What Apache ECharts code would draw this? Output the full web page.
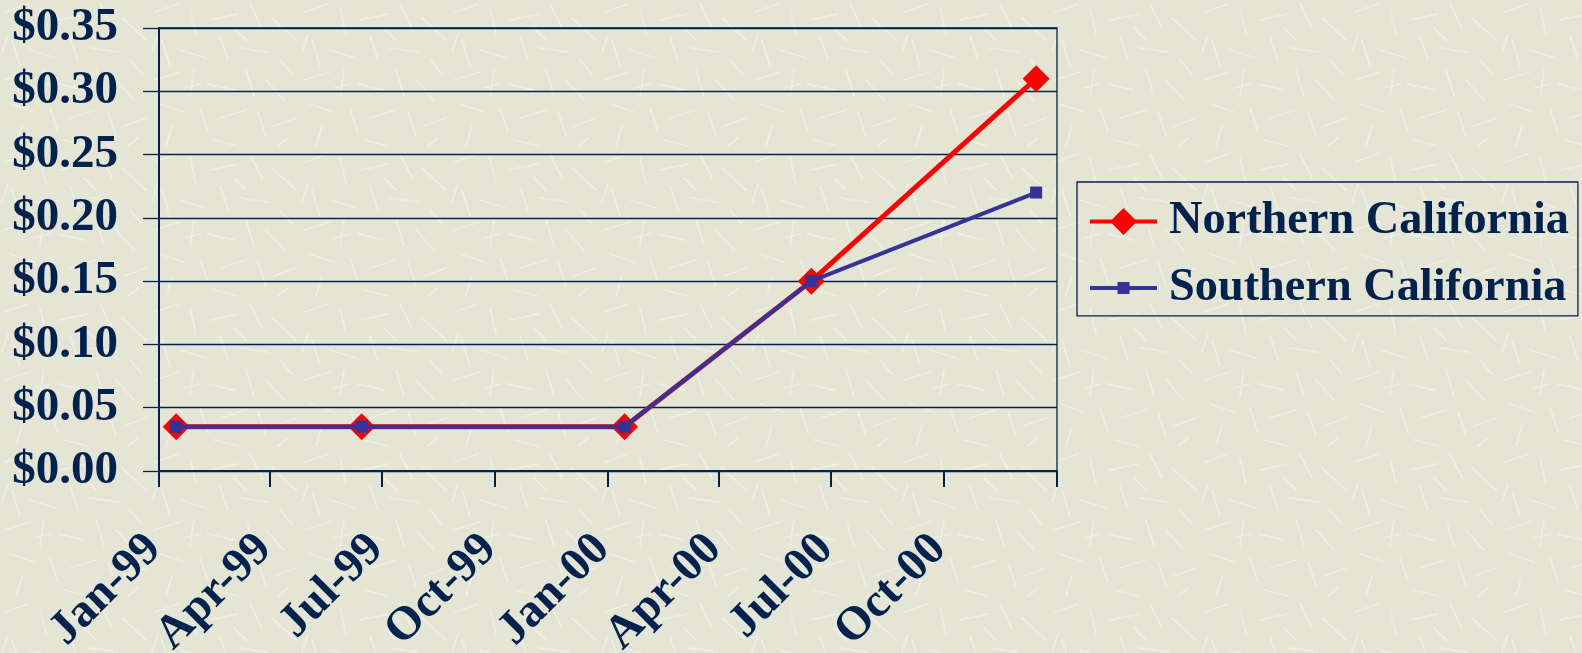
<!DOCTYPE html>
<html>
<head>
<meta charset="utf-8">
<script src="https://cdn.jsdelivr.net/npm/echarts@6/dist/echarts.min.js"></script>
<style>
  html, body { margin: 0; padding: 0; }
  body {
    background-color: #E5E5D6;
    /* paper-like scratch texture */
    background-image: url("data:image/svg+xml;utf8,<svg xmlns='http://www.w3.org/2000/svg' width='150' height='150'><g stroke='%23F2F2E7' stroke-width='1.8' stroke-linecap='round' opacity='0.7'><path d='M5 12 L28 4'/><path d='M40 8 L46 34'/><path d='M60 20 L88 14'/><path d='M100 4 L112 28'/><path d='M122 18 L146 40'/><path d='M12 40 L20 66'/><path d='M30 50 L56 58'/><path d='M70 36 L78 60'/><path d='M90 48 L118 52'/><path d='M4 80 L30 72'/><path d='M44 70 L40 96'/><path d='M58 84 L84 90'/><path d='M96 70 L104 96'/><path d='M116 80 L134 100'/><path d='M10 104 L34 112'/><path d='M50 108 L58 132'/><path d='M70 118 L96 110'/><path d='M108 112 L116 136'/><path d='M124 126 L146 118'/><path d='M22 126 L16 146'/><path d='M84 28 L96 40'/><path d='M34 88 L50 84'/><path d='M130 60 L142 74'/><path d='M64 140 L88 146'/><path d='M2 52 L8 34'/><path d='M138 138 L128 146'/></g></svg>");
  }
  #chart { width: 1582px; height: 653px; }
</style>
</head>
<body>
<div id="chart"></div>
<script>
// Observation dates (mid-month) and prices in $ per kWh
const obsDates = ['1999-01-15', '1999-06-15', '2000-01-15', '2000-06-15', '2000-12-15'];
const northern = [0.035, 0.035, 0.035, 0.15, 0.31];
const southern = [0.035, 0.035, 0.035, 0.15, 0.22];

// Quarterly ticks on the date axis
const tickDates = ['1999-01-01', '1999-04-01', '1999-07-01', '1999-10-01', '2000-01-01',
                   '2000-04-01', '2000-07-01', '2000-10-01', '2001-01-01'];
const tickLabels = ['Jan-99', 'Apr-99', 'Jul-99', 'Oct-99', 'Jan-00',
                    'Apr-00', 'Jul-00', 'Oct-00'];

const yTicks = { min: 0, max: 0.35, step: 0.05 };

// Day number counted from the first tick date (UTC, so no DST drift)
const DAY = 86400000;
function toDay(s) {
  const p = s.split('-').map(Number);
  return Date.UTC(p[0], p[1] - 1, p[2]) / DAY;
}
const origin = toDay(tickDates[0]);
const tickDays = tickDates.map(d => toDay(d) - origin);
const labelDays = tickDays.slice(0, tickLabels.length);

const NAVY = '#00224F';
const RED = '#FF0000';
const BLUE = '#333399';
const FONT = '"Liberation Serif", "Times New Roman", serif';
const FS = 47;

// Legend keys: a thick line with the series marker in the middle (67 x 27 box)
const ICON_NORTH = 'path://M0,11.5H22L33.5,0L45,11.5H67V15.5H45L33.5,27L22,15.5H0Z';
const ICON_SOUTH = 'path://M0,11.5H27.5V7.5H39.5V11.5H67V15.5H39.5V19.5H27.5V15.5H0Z';

const chart = echarts.init(document.getElementById('chart'), null, { renderer: 'canvas' });

chart.setOption({
  backgroundColor: 'transparent',
  animation: false,
  grid: {
    left: 159, right: 525, top: 28, bottom: 182,
    outerBoundsMode: 'none',
    containLabel: false,
    show: true, borderColor: NAVY, borderWidth: 1.3, backgroundColor: 'transparent'
  },
  legend: {
    left: 1077, top: 182,
    orient: 'vertical',
    padding: [15.5, 9, 4, 13],
    itemGap: 18.4,
    itemWidth: 67, itemHeight: 27,
    symbolKeepAspect: true,
    borderColor: NAVY, borderWidth: 1.3,
    itemStyle: { borderWidth: 0 },
    textStyle: { color: NAVY, fontFamily: FONT, fontWeight: 'bold', fontSize: 46.3, lineHeight: 48, padding: [0, 0, 0, 7] },
    data: [
      { name: 'Northern California', icon: ICON_NORTH },
      { name: 'Southern California', icon: ICON_SOUTH }
    ]
  },
  xAxis: {
    type: 'value',
    min: tickDays[0],
    max: tickDays[tickDays.length - 1],
    axisLine: { show: true, onZero: false, lineStyle: { color: NAVY, width: 2 } },
    axisTick: { show: true, length: 16, customValues: tickDays, lineStyle: { color: NAVY, width: 2 } },
    splitLine: { show: false },
    axisLabel: {
      customValues: labelDays,
      rotate: 45,
      margin: 66,
      padding: [0, 7, 0, 0],
      color: NAVY, fontFamily: FONT, fontWeight: 'bold', fontSize: FS,
      formatter: function (v) {
        const i = labelDays.indexOf(v);
        return i >= 0 ? tickLabels[i] : '';
      }
    }
  },
  yAxis: {
    type: 'value',
    min: yTicks.min, max: yTicks.max, interval: yTicks.step,
    axisLine: { show: true, lineStyle: { color: NAVY, width: 2 } },
    axisTick: { show: true, length: 16, lineStyle: { color: NAVY, width: 1.3 } },
    splitLine: { show: true, lineStyle: { color: NAVY, width: 1.3 } },
    axisLabel: {
      margin: 41,
      color: NAVY, fontFamily: FONT, fontWeight: 'bold', fontSize: FS,
      formatter: function (v) { return '$' + v.toFixed(2); }
    }
  },
  series: [
    {
      name: 'Northern California',
      type: 'line',
      data: obsDates.map((d, i) => [toDay(d) - origin, northern[i]]),
      symbol: 'diamond', symbolSize: 27,
      lineStyle: { color: RED, width: 5 },
      itemStyle: { color: RED, borderWidth: 0 },
      z: 3
    },
    {
      name: 'Southern California',
      type: 'line',
      data: obsDates.map((d, i) => [toDay(d) - origin, southern[i]]),
      symbol: 'rect', symbolSize: 12,
      lineStyle: { color: BLUE, width: 4 },
      itemStyle: { color: BLUE, borderWidth: 0 },
      z: 4
    }
  ]
});
</script>
</body>
</html>
